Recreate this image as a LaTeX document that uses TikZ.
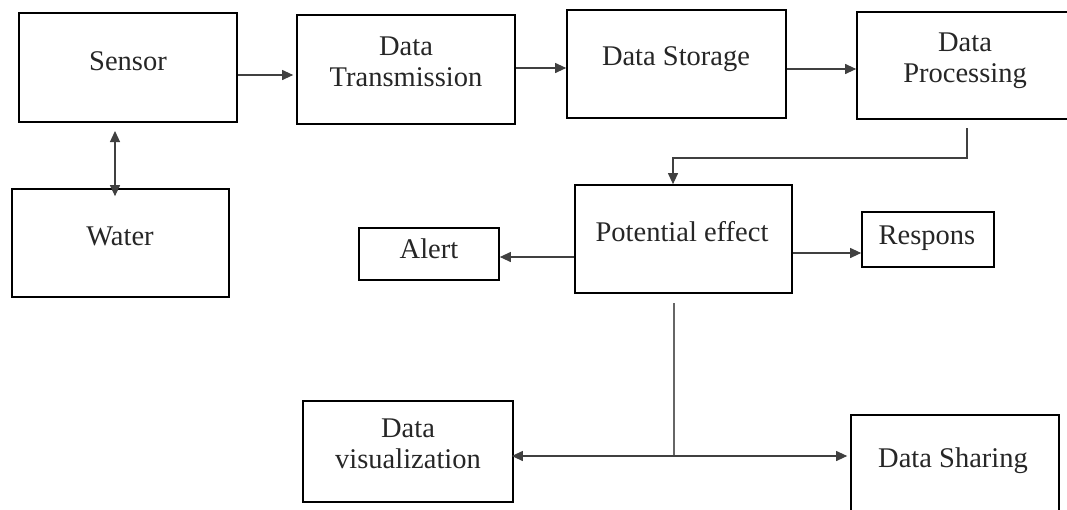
\documentclass[tikz,border=0pt]{standalone}
\usepackage{fontspec}
\setmainfont{Liberation Serif}
\usetikzlibrary{arrows.meta,fit}
\begin{document}
\begin{tikzpicture}[x=1pt,y=-1pt,
  box/.style={draw=black,line width=1.7pt,inner sep=0pt,rectangle},
  txt/.style={font=\fontsize{28.5}{31}\selectfont,inner sep=0pt,align=center,text=black!85},
  arr/.style={draw=black!75,line width=1.1pt,-{Triangle[length=11pt,width=10pt]}},
  darr/.style={draw=black!75,line width=1.1pt,{Triangle[length=11pt,width=10pt]}-{Triangle[length=11pt,width=10pt]}},
  ln/.style={draw=black!60,line width=1.1pt}]
\clip (0,0) rectangle (1067,509);
\fill[white] (0,0) rectangle (1067,509);
% boxes
\node[box,fit={(19,13) (237,122)}] (sensor) {};
\node[box,fit={(12,189) (229,297)}] (water) {};
\node[box,fit={(297,15) (515,124)}] (dt) {};
\node[box,fit={(567,10) (786,118)}] (ds) {};
\node[box,fit={(857,12) (1085,119)}] (dp) {};
\node[box,fit={(575,185) (792,293)}] (pe) {};
\node[box,fit={(359,228) (499,280)}] (alert) {};
\node[box,fit={(862,212) (994,267)}] (resp) {};
\node[box,fit={(303,401) (513,502)}] (dv) {};
\node[box,fit={(851,415) (1059,540)}] (dsh) {};
% texts (multi-line: base = last line)
\node[txt,anchor=base] (sensorT) at (128,70) {Sensor};
\node[txt,anchor=base] (waterT) at (120,245) {Water};
\node[txt,anchor=base] (dtT) at (406,86) {Data\\Transmission};
\node[txt,anchor=base] (dsT) at (676,65) {Data Storage};
\node[txt,anchor=base] (dpT) at (965,82) {Data\\Processing};
\node[txt,anchor=base] (peT) at (682,241) {Potential effect};
\node[txt,anchor=base] (alertT) at (429,258) {Alert};
\node[txt,anchor=base] (respT) at (927,244) {Respons};
\node[txt,anchor=base] (dvT) at (408,468) {Data\\visualization};
\node[txt,anchor=base] (dshT) at (953,467) {Data Sharing};
% connectors
\coordinate (sw1) at (115,131);
\draw[darr] (sw1) -- ([yshift=-8pt]water.north -| sw1);
\draw[arr,shorten >=3pt] (sensor.east |- 0,75) -- (dt.west |- 0,75);
\draw[arr] (dt.east |- 0,68) -- (ds.west |- 0,68);
\draw[arr] (ds.east |- 0,69) -- (dp.west |- 0,69);
\coordinate (dp1) at (967,128);
\coordinate (dp2) at (673,158);
\draw[arr] (dp1) |- (dp2) -- (dp2 |- pe.north);
\draw[arr] (pe.west |- 0,257) -- (alert.east |- 0,257);
\draw[arr] (pe.east |- 0,253) -- (resp.west |- 0,253);
\coordinate (pe1) at (674,303);
\coordinate (jn) at (674,456);
\draw[ln] (pe1) -- (jn);
\draw[arr,shorten >=-2pt] (jn) -- (dv.east |- jn);
\draw[arr,shorten >=3pt] (jn) -- (dsh.west |- jn);
\end{tikzpicture}
\end{document}
